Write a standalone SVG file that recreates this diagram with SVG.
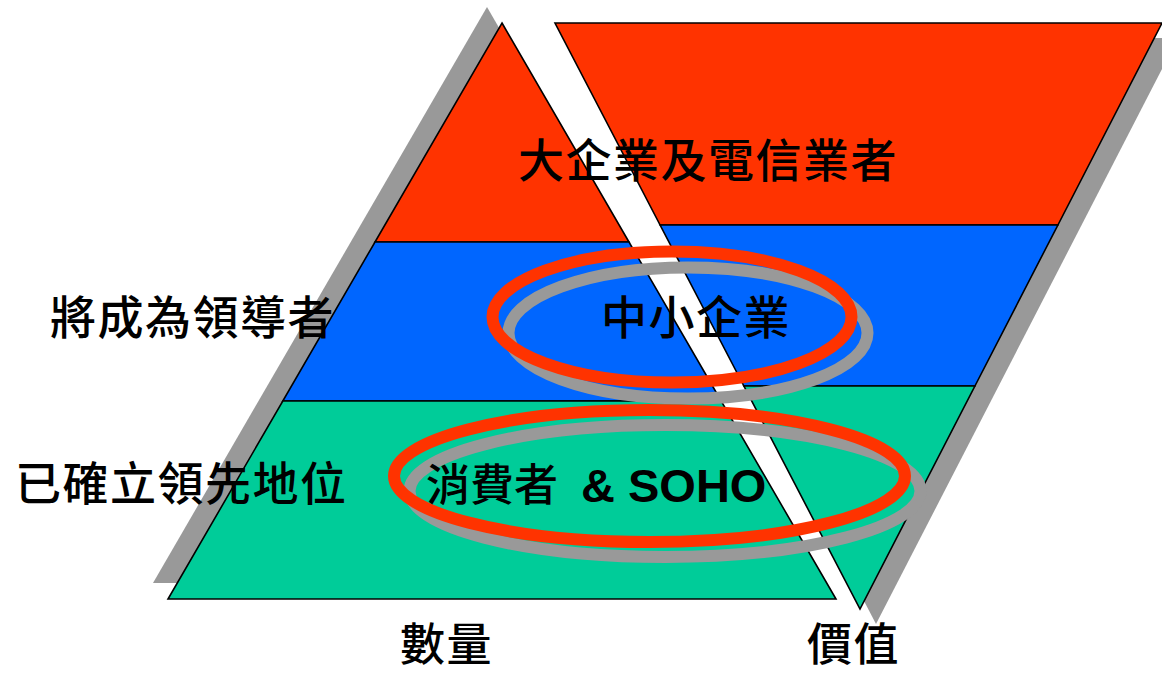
<svg xmlns="http://www.w3.org/2000/svg" width="1162" height="674" viewBox="0 0 1162 674">
<style>
.shadow{fill:#999999;stroke:none}
.band{stroke:#000000;stroke-width:1.6;stroke-linejoin:miter}
.red{fill:#FF3300}
.blue{fill:#0066FF}
.green{fill:#00CC99}
.ring{fill:none;stroke-width:12}
.ring-shadow{stroke:#999999}
.ring-red{stroke:#FF3300}
.cjk{font-family:"Noto Sans CJK TC","Noto Sans CJK SC",sans-serif;font-size:46px;font-weight:500;fill:#000000;letter-spacing:1.5px}
.latin{font-family:"Liberation Sans",Arial,sans-serif;font-weight:bold;font-size:47px;fill:#000000}
</style>
<rect x="0" y="0" width="1162" height="674" fill="#FFFFFF"/>
<g id="shadows">
<polygon class="shadow" points="487,7 821,583 153,583"/>
<polygon class="shadow" points="571,38 1178,38 876,624"/>
</g>
<g id="quantity-pyramid">
<polygon class="band red" points="502,23 629,242 375,242"/>
<polygon class="band blue" points="375,242 629,242 721.2,401 282.8,401"/>
<polygon class="band green" points="282.8,401 721.2,401 836,599 168,599"/>
</g>
<g id="value-pyramid">
<polygon class="band red" points="555,23 1162,23 1057.9,225 660.1,225"/>
<polygon class="band blue" points="660.1,225 1057.9,225 974.9,386 743.9,386"/>
<polygon class="band green" points="743.9,386 974.9,386 860,609"/>
</g>
<g id="highlights">
<ellipse class="ring ring-shadow" cx="688" cy="333" rx="179.5" ry="65.5"/>
<ellipse class="ring ring-red" cx="672" cy="317" rx="179.5" ry="65.5"/>
<ellipse class="ring ring-shadow" cx="665" cy="491" rx="255.5" ry="66"/>
<ellipse class="ring ring-red" cx="649.5" cy="476" rx="255.5" ry="66"/>
</g>
<g id="labels">
<text class="cjk" x="518" y="177">大企業及電信業者</text>
<text class="cjk" x="601" y="334">中小企業</text>
<text class="cjk" x="50" y="334">將成為領導者</text>
<text class="cjk" x="15" y="500">已確立領先地位</text>
<text class="cjk" x="426" y="501" style="font-size:44px;letter-spacing:0px">消費者</text>
<text class="latin" x="581" y="502">&amp; SOHO</text>
<text class="cjk" x="400" y="661" style="font-size:45px">數量</text>
<text class="cjk" x="807" y="661" style="font-size:45px">價值</text>
</g>
</svg>
